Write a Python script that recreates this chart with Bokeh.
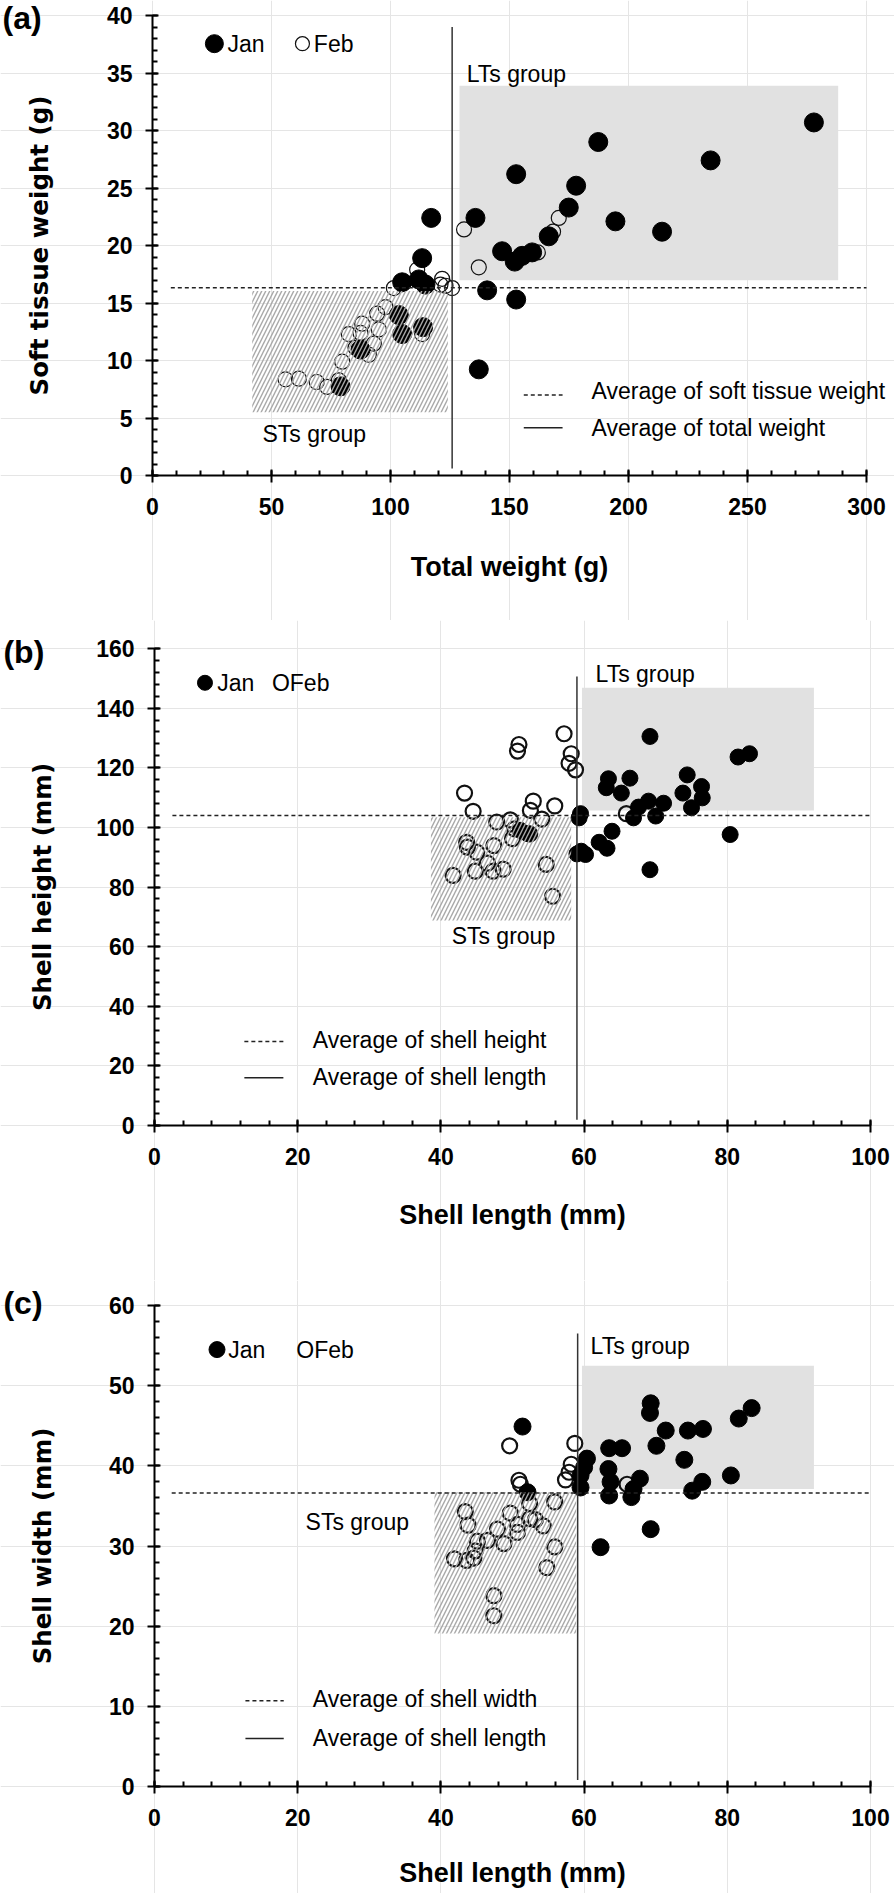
from bokeh.plotting import figure
from bokeh.models import SingleIntervalTicker, Label, Range1d, LinearAxis
from bokeh.layouts import column
from bokeh.embed import file_html
from bokeh.resources import INLINE

# ---------------- data: panel (a) ----------------
a_jan_total = [277.9, 187.3, 234.5, 152.8, 178.0, 174.9, 117.1, 135.7, 194.5, 214.1, 166.5, 146.9, 159.5, 155.3,
               152.2, 113.3, 104.9, 111.9, 114.7, 140.6, 152.8, 103.5, 104.9, 113.7, 87.4, 79.0, 137.1]
a_jan_soft = [30.7, 29.0, 27.4, 26.2, 25.2, 23.3, 22.4, 22.4, 22.1, 21.2, 20.8, 19.5, 19.4, 19.1,
              18.6, 18.9, 16.8, 17.05, 16.6, 16.1, 15.3, 13.95, 12.3, 12.9, 10.95, 7.75, 9.23]
a_feb_total = [130.9, 137.1, 170.7, 168.3, 161.9, 111.2, 121.7, 121.0, 123.1, 125.9, 101.4, 97.9, 94.4, 88.1,
               82.5, 87.4, 95.1, 85.3, 93.0, 90.9, 113.3, 79.7, 55.9, 61.5, 69.0, 73.4, 78.3]
a_feb_soft = [21.4, 18.1, 22.4, 21.2, 19.4, 17.9, 17.1, 16.6, 16.5, 16.3, 16.3, 14.65, 14.07, 13.2,
              12.3, 12.4, 12.7, 11.1, 11.46, 10.5, 12.3, 9.9, 8.36, 8.42, 8.13, 7.7, 8.28]
a_mean_total = 125.9
a_mean_soft = 16.33
a_lt_box = [129.0, 288.1, 16.97, 33.9]   # left, right, bottom, top
a_st_box = [41.9, 124.1, 5.5, 16.04]

# ---------------- data: panel (b) ----------------
b_jan_len = [69.2, 81.5, 83.1, 63.4, 63.1, 66.4, 65.2, 74.4, 76.4, 73.8, 76.5, 75.0, 71.1, 69.0, 67.6, 66.9,
             70.0, 59.5, 59.3, 63.9, 62.1, 63.2, 59.0, 60.2, 59.6, 69.2, 80.4, 51.1, 52.1]
b_jan_hgt = [130.5, 123.6, 124.7, 116.3, 113.3, 116.5, 111.5, 117.6, 113.7, 111.5, 109.9, 106.6, 108.1, 108.8,
             106.8, 103.2, 103.8, 104.6, 103.2, 98.7, 95.0, 93.0, 91.1, 90.9, 92.0, 85.8, 97.6, 99.0, 97.9]
b_feb_len = [57.2, 50.9, 50.7, 58.2, 57.9, 58.8, 43.3, 44.5, 52.9, 52.5, 55.9, 54.1, 47.8, 49.7, 50.3, 50.0,
             43.6, 43.7, 45.0, 47.4, 46.5, 44.8, 47.3, 48.7, 41.7, 54.7, 55.6, 65.9, 52.4]
b_feb_hgt = [131.4, 127.8, 125.6, 124.7, 121.5, 119.3, 111.5, 105.4, 108.8, 105.7, 107.2, 102.8, 101.8, 102.5,
             99.5, 96.2, 95.0, 93.4, 91.7, 93.9, 88.0, 85.3, 85.3, 86.0, 83.9, 87.6, 76.9, 104.6, 97.8]
b_mean_len = 59.0
b_mean_hgt = 104.0
b_lt_box = [59.7, 92.1, 105.7, 146.8]
b_st_box = [38.6, 58.2, 68.8, 103.4]

# ---------------- data: panel (c) ----------------
c_jan_len = [51.4, 69.3, 69.2, 83.4, 81.6, 71.4, 74.5, 76.6, 70.1, 63.5, 65.3, 74.0, 60.4, 60.0, 63.4, 59.5,
             80.5, 67.8, 63.7, 76.5, 75.1, 59.5, 66.9, 63.5, 66.6, 69.3, 62.3, 52.1]
c_jan_wid = [44.9, 47.8, 46.6, 47.2, 45.9, 44.4, 44.4, 44.6, 42.5, 42.2, 42.2, 40.75, 40.9, 39.8, 39.6, 38.8,
             38.8, 38.4, 38.0, 38.0, 36.9, 37.3, 37.1, 36.3, 36.1, 32.1, 29.85, 36.7]
c_feb_len = [58.7, 49.6, 58.2, 57.9, 57.4, 50.9, 51.1, 66.0, 43.4, 43.8, 52.4, 55.9, 49.7, 53.2, 50.7, 50.7,
             54.3, 52.4, 47.9, 46.5, 45.1, 48.8, 44.8, 55.9, 41.9, 43.6, 44.6, 54.8, 47.4, 47.4]
c_feb_wid = [42.8, 42.5, 40.2, 39.2, 38.25, 38.2, 37.7, 37.7, 34.3, 32.6, 35.3, 35.5, 34.1, 33.3, 32.7, 31.7,
             32.5, 33.4, 32.1, 30.7, 30.6, 30.3, 29.4, 29.9, 28.4, 28.2, 28.5, 27.3, 23.8, 21.3]
c_mean_len = 59.1
c_mean_wid = 36.6
c_lt_box = [59.7, 92.1, 37.1, 52.5]
c_st_box = [39.1, 58.9, 19.1, 36.7]

TXT = "Liberation Sans"
W = 894


def make_fig(H, xmax, ymax, x0px, x1px, y0px, y1px, xint, yint, xlabel, ylabel,
             x_std, x_st, y_std, y_st):
    """Frame covers the whole canvas; axes are pinned at data 0 with fixed_location."""
    xs = (0 - x0px) / (x1px - x0px) * xmax
    xe = (W - x0px) / (x1px - x0px) * xmax
    ys = (y0px - H) / (y0px - y1px) * ymax
    ye = (y0px - 0) / (y0px - y1px) * ymax
    p = figure(width=W, height=H, x_range=Range1d(xs, xe), y_range=Range1d(ys, ye),
               x_axis_location=None, y_axis_location=None, min_border=0,
               output_backend="svg", toolbar_location=None)
    p.outline_line_color = None
    p.background_fill_color = "white"
    p.border_fill_color = "white"
    xa = LinearAxis(fixed_location=0, bounds=(0, xmax),
                    ticker=SingleIntervalTicker(interval=xint, num_minor_ticks=5))
    ya = LinearAxis(fixed_location=0, bounds=(0, ymax),
                    ticker=SingleIntervalTicker(interval=yint, num_minor_ticks=5))
    for ax in (xa, ya):
        ax.axis_line_width = 2
        ax.axis_line_color = "black"
        ax.major_tick_line_width = 2
        ax.minor_tick_line_width = 2
        ax.major_tick_in = 6
        ax.major_tick_out = 7
        ax.minor_tick_in = 5
        ax.minor_tick_out = 0
        ax.major_label_text_font = TXT
        ax.major_label_text_font_style = "bold"
        ax.major_label_text_font_size = "23px"
        ax.major_label_text_color = "black"
    xa.major_label_standoff = x_std
    ya.major_label_standoff = y_std
    xa.axis_label = xlabel
    xa.axis_label_text_font = TXT
    xa.axis_label_text_font_style = "bold"
    xa.axis_label_text_font_size = "27px"
    xa.axis_label_text_color = "black"
    xa.axis_label_standoff = x_st
    ya.axis_label = ylabel
    ya.axis_label_text_font = "DejaVu Sans"
    ya.axis_label_text_font_style = "bold"
    ya.axis_label_text_font_size = "24.5px"
    ya.axis_label_text_color = "black"
    ya.axis_label_standoff = y_st
    p.add_layout(xa, "below")
    p.add_layout(ya, "left")
    return p


def label(p, x, y, text, size="23px", style="normal"):
    p.add_layout(Label(x=x, y=y, text=text, text_font=TXT, text_font_size=size,
                       text_font_style=style, text_align="left", text_baseline="middle",
                       text_color="black"))


def draw(p, jx, jy, fx, fy, lt, st, mean_x, mean_y, hline_x0, hline_x1, vline_y0, vline_y1,
         jan_size, feb_size, feb_lw):
    p.quad(left=[lt[0]], right=[lt[1]], bottom=[lt[2]], top=[lt[3]],
           fill_color="#e1e1e1", line_color=None)
    p.scatter(fx, fy, marker="circle", size=feb_size, fill_color=None, line_color="#111111",
              line_width=feb_lw)
    p.scatter(jx, jy, marker="circle", size=jan_size, fill_color="black", line_color="black",
              line_width=1)
    p.quad(left=[st[0]], right=[st[1]], bottom=[st[2]], top=[st[3]],
           fill_color="white", fill_alpha=0, line_color=None,
           hatch_pattern="right_diagonal_line", hatch_color="#a8a8a8", hatch_weight=1.4,
           hatch_scale=8)
    p.segment(x0=[hline_x0], y0=[mean_y], x1=[hline_x1], y1=[mean_y], line_color="#222222",
              line_width=1.5, line_dash="4 3")
    p.segment(x0=[mean_x], y0=[vline_y0], x1=[mean_x], y1=[vline_y1], line_color="#333333",
              line_width=1.5)


# ---------------- panel (a) ----------------
HA = 620
pa = make_fig(HA, 300, 40, 152, 866, 475, 15, 50, 5,
              "Total weight (g)", "Soft tissue weight (g)", 15, 34, 13, 50)
draw(pa, a_jan_total, a_jan_soft, a_feb_total, a_feb_soft, a_lt_box, a_st_box,
     a_mean_total, a_mean_soft, 7.7, 300, 0.6, 39.0, 19, 15, 1.2)
pa.scatter([26.0], [37.55], marker="circle", size=18, fill_color="black", line_color="black")
pa.scatter([63.0], [37.55], marker="circle", size=14, fill_color=None, line_color="#111111", line_width=1.2)
label(pa, 31.5, 37.55, "Jan")
label(pa, 67.8, 37.55, "Feb")
label(pa, 132.0, 34.9, "LTs group")
label(pa, 46.2, 3.65, "STs group")
pa.segment(x0=[156.0], y0=[7.0], x1=[172.3], y1=[7.0], line_color="#222222", line_width=1.5, line_dash="4 3")
pa.segment(x0=[156.0], y0=[4.16], x1=[172.3], y1=[4.16], line_color="#222222", line_width=1.5)
label(pa, 184.5, 7.35, "Average of soft tissue weight")
label(pa, 184.5, 4.1, "Average of total weight")
label(pa, -63.0, 39.74, "(a)", size="32px", style="bold")

# ---------------- panel (b) ----------------
HB = 660
pb = make_fig(HB, 100, 160, 154, 870, 505, 28, 20, 20,
              "Shell length (mm)", "Shell height (mm)", 15, 32, 13, 36)
draw(pb, b_jan_len, b_jan_hgt, b_feb_len, b_feb_hgt, b_lt_box, b_st_box,
     b_mean_len, b_mean_hgt, 2.5, 100, 1.9, 150.6, 16, 15, 2.2)
pb.scatter([7.05], [148.5], marker="circle", size=15, fill_color="black", line_color="black")
label(pb, 8.76, 148.5, "Jan")
label(pb, 16.4, 148.5, "OFeb")
label(pb, 61.6, 151.4, "LTs group")
label(pb, 41.5, 63.4, "STs group")
pb.segment(x0=[12.55], y0=[28.2], x1=[18.0], y1=[28.2], line_color="#222222", line_width=1.5, line_dash="4 3")
pb.segment(x0=[12.55], y0=[16.0], x1=[18.0], y1=[16.0], line_color="#222222", line_width=1.5)
label(pb, 22.1, 28.6, "Average of shell height")
label(pb, 22.1, 16.2, "Average of shell length")
label(pb, -21.1, 158.66, "(b)", size="32px", style="bold")

# ---------------- panel (c) ----------------
HC = 613
pc = make_fig(HC, 100, 60, 154, 870, 506, 25, 20, 10,
              "Shell length (mm)", "Shell width (mm)", 15, 29, 13, 49)
draw(pc, c_jan_len, c_jan_wid, c_feb_len, c_feb_wid, c_lt_box, c_st_box,
     c_mean_len, c_mean_wid, 2.4, 100, 0.8, 56.5, 17, 15, 2.2)
pc.scatter([8.73], [54.5], marker="circle", size=16, fill_color="black", line_color="black")
label(pc, 10.3, 54.5, "Jan")
label(pc, 19.8, 54.5, "OFeb")
label(pc, 60.9, 54.9, "LTs group")
label(pc, 21.1, 33.05, "STs group")
pc.segment(x0=[12.7], y0=[10.7], x1=[18.05], y1=[10.7], line_color="#222222", line_width=1.5, line_dash="4 3")
pc.segment(x0=[12.7], y0=[6.0], x1=[18.05], y1=[6.0], line_color="#222222", line_width=1.5)
label(pc, 22.1, 10.9, "Average of shell width")
label(pc, 22.1, 6.1, "Average of shell length")
label(pc, -21.1, 60.31, "(c)", size="32px", style="bold")

layout = column(pa, pb, pc)
open("out.html", "w").write(file_html(layout, INLINE))
